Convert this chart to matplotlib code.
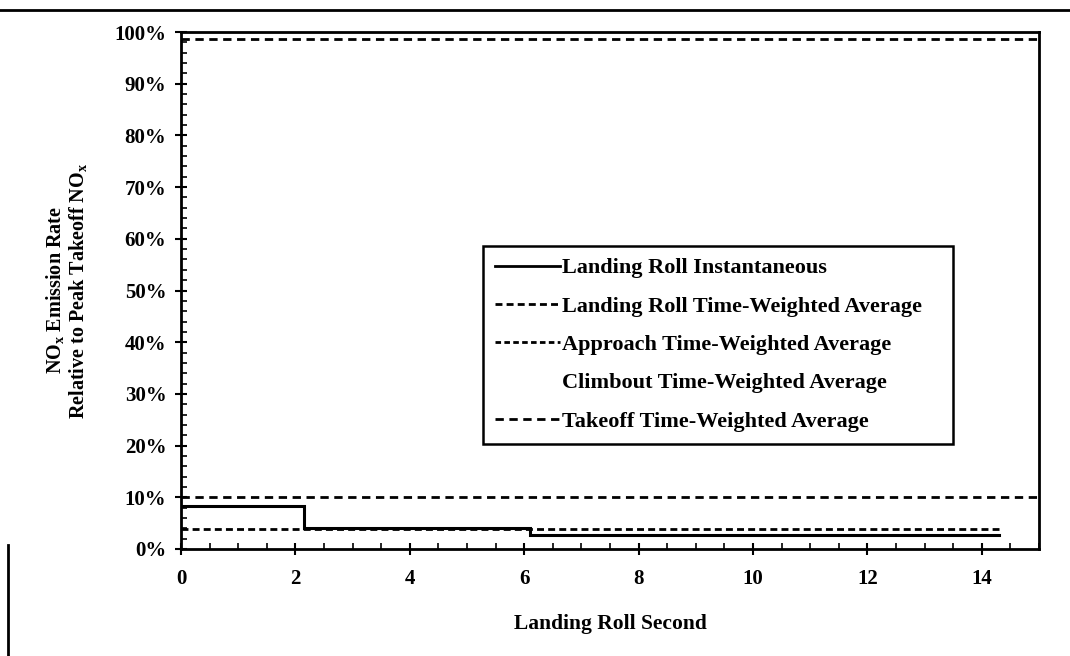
import numpy as np
import matplotlib
matplotlib.use("Agg")
from matplotlib import pyplot as plt
from matplotlib.lines import Line2D
from matplotlib.ticker import MultipleLocator, PercentFormatter

# data (percent of peak takeoff NOx)
inst_x = [0, 2.15, 2.15, 6.1, 6.1, 14.3]
inst_y = [8.3, 8.3, 4.0, 4.0, 2.8, 2.8]
roll_avg_x = [0, 14.3]
roll_avg_y = [3.9, 3.9]
approach_x = [0, 15]
approach_y = [10.0, 10.0]
takeoff_x = [0, 15]
takeoff_y = [98.6, 98.6]
labels = ["Landing Roll Instantaneous",
          "Landing Roll Time-Weighted Average",
          "Approach Time-Weighted Average",
          "Climbout Time-Weighted Average",
          "Takeoff Time-Weighted Average"]

plt.rcParams['font.family'] = ['Liberation Serif', 'DejaVu Serif']
plt.rcParams['font.weight'] = 'bold'
plt.rcParams['mathtext.fontset'] = 'custom'
plt.rcParams['mathtext.rm'] = 'Liberation Serif:bold'
plt.rcParams['mathtext.it'] = 'Liberation Serif:bold'

fig = plt.figure(figsize=(10.7, 6.56), dpi=100)
ax = fig.add_axes([181/1070, 1 - 549/656, 858/1070, 517/656])

ax.plot(inst_x, inst_y, color='black', lw=2.2, solid_joinstyle='miter')
ax.plot(roll_avg_x, roll_avg_y, color='black', lw=2, ls=(0, (2.5, 1.5)))
ax.plot(approach_x, approach_y, color='black', lw=2, ls=(0, (3, 2)))
ax.plot(takeoff_x, takeoff_y, color='black', lw=2, ls=(0, (3, 2)))

ax.set_xlim(0, 15)
ax.set_ylim(0, 100)
ax.xaxis.set_minor_locator(MultipleLocator(0.5))
ax.yaxis.set_major_locator(MultipleLocator(10))
ax.yaxis.set_minor_locator(MultipleLocator(2))
ax.yaxis.set_major_formatter(PercentFormatter(decimals=0))
ax.set_xticks([0, 2, 4, 6, 8, 10, 12, 14])
ax.tick_params(which='major', direction='inout', length=9, width=1.5,
               labelsize=15)
ax.tick_params(axis='x', which='major', pad=10)
ax.tick_params(axis='y', which='major', pad=6)
ax.tick_params(which='minor', direction='in', length=4, width=1.2)
for s in ax.spines.values():
    s.set_linewidth(2)

ax.set_xlabel("Landing Roll Second", fontsize=15.5, fontweight='bold',
              labelpad=18)
ax.set_ylabel("NO$_x$ Emission Rate\nRelative to Peak Takeoff NO$_x$",
              fontsize=14.5, fontweight='bold', labelpad=18, linespacing=1.1)

# climbout has an entry in the legend but no visible line
handles = [Line2D([], [], color='black', lw=2),
           Line2D([], [], color='black', lw=2, ls=(0, (2.5, 1.5))),
           Line2D([], [], color='black', lw=2, ls=(0, (2, 1.2))),
           Line2D([], [], ls='none'),
           Line2D([], [], color='black', lw=2, ls=(0, (3, 2)))]
leg = ax.legend(handles, labels, loc='lower left',
                bbox_to_anchor=(0.352, 0.203, 0.548, 0.385), mode='expand',
                borderaxespad=0, fontsize=16, handlelength=2.9,
                handletextpad=0.1, labelspacing=0.8, fancybox=False,
                framealpha=1, edgecolor='black', borderpad=0.55)
leg.get_frame().set_linewidth(1.8)

# scan border of the page
fig.add_artist(Line2D([0, 1], [1 - 10/656, 1 - 10/656], color='black', lw=2))
fig.add_artist(Line2D([8/1070, 8/1070], [0, 1 - 545/656], color='black', lw=2))

fig.savefig("out.png", dpi=100)
